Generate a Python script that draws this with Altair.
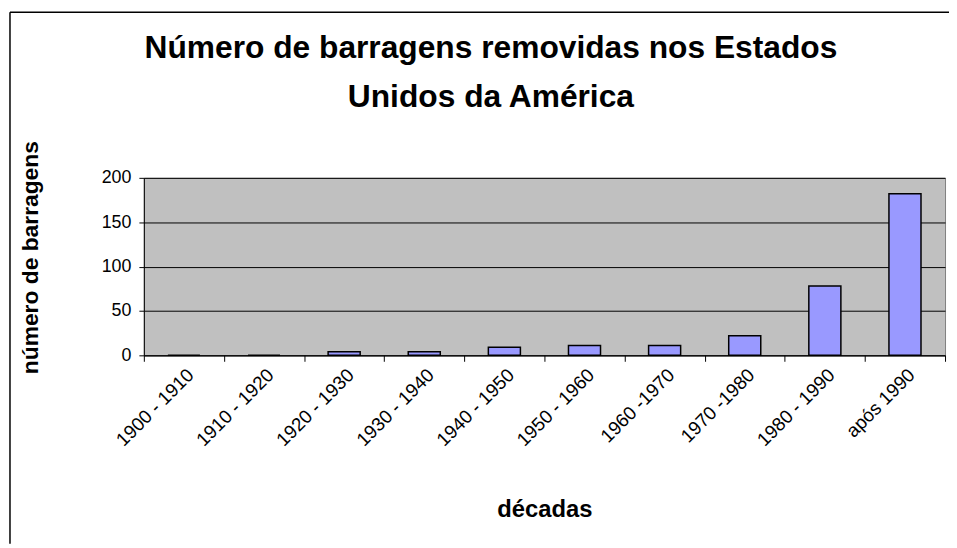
import altair as alt
import pandas as pd

decades = ["1900 - 1910", "1910 - 1920", "1920 - 1930", "1930 - 1940", "1940 - 1950",
           "1950 - 1960", "1960 -1970", "1970 -1980", "1980 - 1990", "após 1990"]
dams_removed = [0, 0, 4, 4, 9, 11, 11, 22, 78, 182]
title_lines = ["Número de barragens removidas nos Estados", "Unidos da América"]

df = pd.DataFrame({"decada": decades, "n": dams_removed})

W, H = 808, 179
PAD = {"left": 137, "top": 169, "right": 4, "bottom": 190}
FONT = "Liberation Sans"

bars = alt.Chart(df).mark_bar(
    color="#9999FF", stroke="black", strokeWidth=1.5,
    width=alt.RelativeBandSize(0.4)
).encode(
    x=alt.X("decada:N", sort=decades,
            scale=alt.Scale(paddingInner=0, paddingOuter=0),
            axis=alt.Axis(title="décadas", labelAngle=-45, labelFontSize=19,
                          labelFont=FONT, labelColor="black", labelPadding=4,
                          tickBand="extent", tickSize=6, tickColor="black",
                          domainColor="black", titleFont=FONT, titleFontSize=24,
                          titleFontWeight="bold", titleColor="black",
                          titlePadding=48, grid=False)),
    y=alt.Y("n:Q", scale=alt.Scale(domain=[0, 200], nice=False),
            axis=alt.Axis(title="número de barragens", values=[0, 50, 100, 150, 200],
                          labelFontSize=18, labelFont=FONT, labelColor="black",
                          labelPadding=8, tickSize=5, tickColor="black",
                          domainColor="black", gridColor="black", gridWidth=1,
                          gridOpacity=1, titleFont=FONT, titleFontSize=23,
                          titleFontWeight="bold", titleColor="black",
                          titleAngle=-90, titleAlign="center", titleBaseline="middle",
                          titleX=-114, titleY=80))
)

title1 = alt.Chart(pd.DataFrame({"t": [title_lines[0]]})).mark_text(
    font=FONT, fontSize=32, fontWeight="bold", color="black",
    align="center", baseline="alphabetic"
).encode(text="t:N", x=alt.value(350), y=alt.value(-121))
title2 = alt.Chart(pd.DataFrame({"t": [title_lines[1]]})).mark_text(
    font=FONT, fontSize=32, fontWeight="bold", color="black",
    align="center", baseline="alphabetic"
).encode(text="t:N", x=alt.value(350), y=alt.value(-71))

one = alt.Chart(pd.DataFrame({"a": [0]}))
border_left = one.mark_rule(color="black", strokeWidth=1.5).encode(
    x=alt.value(-135), y=alt.value(-167), y2=alt.value(H + PAD["bottom"]))
border_top = one.mark_rule(color="black", strokeWidth=1.5).encode(
    x=alt.value(-135), x2=alt.value(W + PAD["right"]), y=alt.value(-167))

chart = alt.layer(bars, title1, title2, border_left, border_top).properties(
    width=W, height=H,
    padding=PAD,
    autosize=alt.AutoSizeParams(type="none"),
    background="white",
).configure_view(
    fill="#C0C0C0", stroke="#808080", strokeWidth=1
)

chart.save("out.html", embed_options={"renderer": "svg", "actions": False})
